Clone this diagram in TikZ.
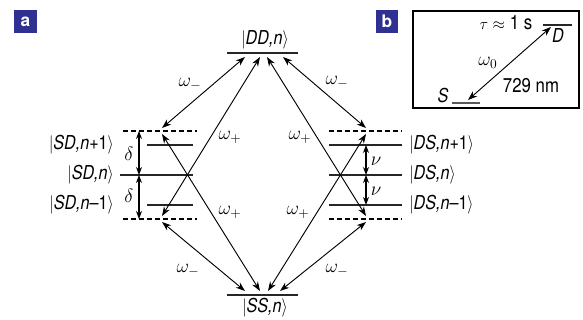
\documentclass[tikz,border=0pt]{standalone}
\usepackage{fontspec}
\usepackage{graphicx}
\setmainfont{TeX Gyre Heros}
\usetikzlibrary{arrows.meta,positioning}
\definecolor{panelblue}{RGB}{46,49,146}
\newcommand{\tallket}[1]{\scalebox{0.97}[1.15]{#1}}

\begin{document}
\begin{tikzpicture}[x=0.75pt,y=-0.75pt,
  level/.style={line width=1pt, black!85},
  virtual/.style={line width=0.9pt, dash pattern=on 3.5pt off 2.5pt},
  trans/.style={line width=0.7pt, {Stealth[length=7pt,width=5pt]}-{Stealth[length=7pt,width=5pt]}},
  gap/.style={line width=0.8pt, {Stealth[length=6pt,width=4.5pt]}-{Stealth[length=6pt,width=4.5pt]}},
  ket/.style={font=\fontsize{12.5}{14}\selectfont\itshape, inner sep=0pt},
  freq/.style={font=\fontsize{14}{16}\selectfont, inner sep=0pt},
  note/.style={font=\fontsize{13}{15}\selectfont, inner sep=0pt},
  panel/.style={fill=panelblue, text=white, font=\bfseries\fontsize{13}{13}\selectfont, minimum size=17pt, inner sep=0pt}]

  % Fixed bounding box (pixel grid of the figure)
  \path[use as bounding box] (0,0) rectangle (583,320);

  % ---- Panel letters ----
  \node[panel] (pa) at (25.5,21.5) {a};
  \node[panel] (pb) at (387,21.5) {b};

  % ---- Outer levels ----
  \draw[level] (227,53) -- (298,53);
  \draw[level] (227,295) -- (298,295);
  \node[ket] (DD) at (265,40) {\tallket{$|$DD,n$\rangle$}};
  \node[ket] (SS) at (265,308) {\tallket{$|$SS,n$\rangle$}};

  % ---- SD ladder (left) ----
  \draw[virtual] (123,131) -- (197,131);
  \draw[virtual] (123,219) -- (197,219);
  \draw[level] (147,145) -- (193,145);
  \draw[level] (120,175) -- (193,175);
  \draw[level] (147,205) -- (193,205);
  \node[ket, anchor=east] (SDp) at (114,145) {\tallket{$|$SD,n\textup{+1}$\rangle$}};
  \node[ket, anchor=east] (SD)  at (114,175) {\tallket{$|$SD,n$\rangle$}};
  \node[ket, anchor=east] (SDm) at (114,205) {\tallket{$|$SD,n\textup{--1}$\rangle$}};

  % ---- DS ladder (right) ----
  \draw[virtual] (329,131) -- (402,131);
  \draw[virtual] (329,219) -- (402,219);
  \foreach \y in {145,175,205}
    \draw[level] (329,\y) -- (402,\y);
  \node[ket, anchor=west] (DSp) at (409,145) {\tallket{$|$DS,n\textup{+1}$\rangle$}};
  \node[ket, anchor=west] (DS)  at (409,175) {\tallket{$|$DS,n$\rangle$}};
  \node[ket, anchor=west] (DSm) at (409,205) {\tallket{$|$DS,n\textup{--1}$\rangle$}};

  % ---- Detunings ----
  \coordinate (dt) at (139,131);
  \coordinate (dm) at (139,175);
  \coordinate (db) at (139,219);
  \draw[gap] (dt) -- (dm);
  \draw[gap] (dm) -- (db);
  \node[freq] (delta1) at (129,154) {$\delta$};
  \node[freq] (delta2) at (129,196) {$\delta$};

  \coordinate (nt) at (366,145);
  \coordinate (nm) at (366,175);
  \coordinate (nb) at (366,205);
  \draw[gap] (nt) -- (nm);
  \draw[gap] (nm) -- (nb);
  \node[freq] (nu1) at (376,161) {$\nu$};
  \node[freq] (nu2) at (376,191) {$\nu$};

  % ---- Arrow ends on the levels ----
  \coordinate (DD1) at (245,57);
  \coordinate (DD2) at (260,57);
  \coordinate (DD3) at (267,57);
  \coordinate (DD4) at (283,57);
  \coordinate (SS1) at (245,291);
  \coordinate (SS2) at (260,291);
  \coordinate (SS3) at (268,291);
  \coordinate (SS4) at (280,291);
  \coordinate (Lta) at (162,128);
  \coordinate (Ltb) at (162,134);
  \coordinate (Lba) at (162,216);
  \coordinate (Lbb) at (162,222);
  \coordinate (Rta) at (366,128);
  \coordinate (Rtb) at (366,134);
  \coordinate (Rba) at (366,216);
  \coordinate (Rbb) at (366,222);

  % ---- Bichromatic transitions ----
  \draw[trans] (DD1) -- (Lta);
  \draw[trans] (DD2) -- (Lba);
  \draw[trans] (DD3) -- (Rba);
  \draw[trans] (DD4) -- (Rta);
  \draw[trans] (SS1) -- (Lbb);
  \draw[trans] (SS2) -- (Ltb);
  \draw[trans] (SS3) -- (Rtb);
  \draw[trans] (SS4) -- (Rbb);

  \node[freq] (wm1) at (190,84)  {$\omega_-$};
  \node[freq] (wm2) at (337,82)  {$\omega_-$};
  \node[freq] (wm3) at (188,270) {$\omega_-$};
  \node[freq] (wm4) at (337,270) {$\omega_-$};
  \node[freq] (wp1) at (230,137) {$\omega_+$};
  \node[freq] (wp2) at (300,137) {$\omega_+$};
  \node[freq] (wp3) at (230,212) {$\omega_+$};
  \node[freq] (wp4) at (298,212) {$\omega_+$};

  % ---- Panel b: qubit transition ----
  \draw[line width=0.8pt] (413,11) rectangle (579,108);
  \draw[level] (543,25) -- (572,25);
  \draw[line width=1.5pt, black!65] (452,103) -- (480,103);
  \coordinate (Sx) at (468,100);
  \coordinate (Dx) at (551,27);
  \draw[trans] (Sx) -- (Dx);
  \node[ket] (Dlab) at (558,36) {\tallket{D}};
  \node[ket] (Slab) at (443,96) {\tallket{S}};
  \node[note] (tau) at (506,23) {$\tau\approx$ \tallket{1 s}};
  \node[freq] (w0) at (488,63) {$\omega_0$};
  \node[note] (lam) at (531,86) {\tallket{\upshape 729 nm}};

\end{tikzpicture}
\end{document}
